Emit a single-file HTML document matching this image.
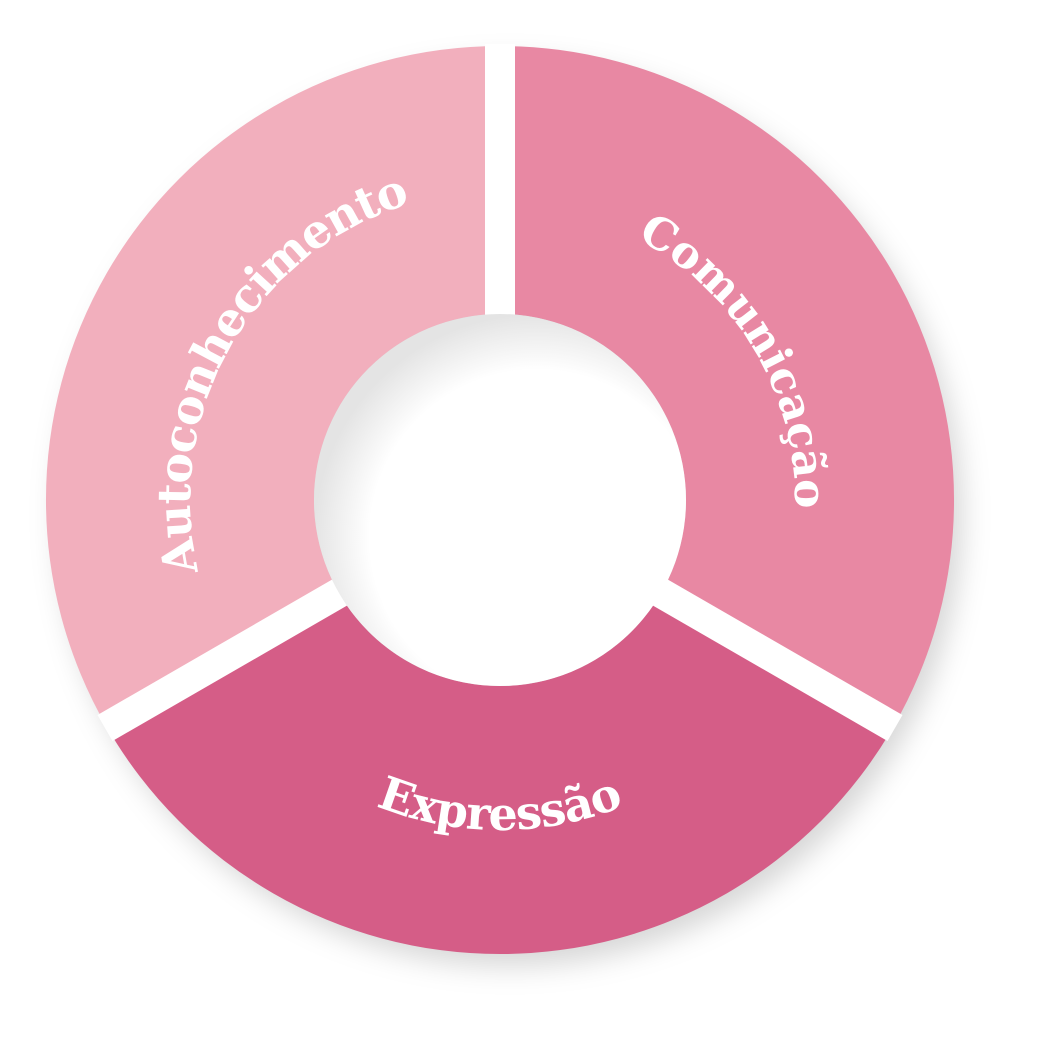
<!DOCTYPE html>
<html><head><meta charset="utf-8"><style>
html,body{margin:0;padding:0;background:#fff;}
svg{display:block;}
text{font-family:"DejaVu Serif","Liberation Serif",serif;font-weight:bold;fill:#fff;font-size:44px;}
</style></head><body>
<svg width="1037" height="1047" viewBox="0 0 1037 1047" xmlns="http://www.w3.org/2000/svg">
<defs>
<filter id="sh" x="-20%" y="-20%" width="140%" height="140%"><feGaussianBlur stdDeviation="14"/></filter>
<radialGradient id="hole" cx="0.6" cy="0.6" r="0.6">
<stop offset="0.75" stop-color="#ffffff"/>
<stop offset="1" stop-color="#e4e4e4"/>
</radialGradient>
</defs>
<circle cx="510" cy="514" r="452" fill="#000" fill-opacity="0.16" filter="url(#sh)"/>
<path d="M 106.8 727 A 454 454 0 0 1 500 46 L 500 314 A 186 186 0 0 0 338.9 593 Z" fill="#f2afbd"/>
<path d="M 500 46 A 454 454 0 0 1 893.2 727 L 661.1 593 A 186 186 0 0 0 500 314 Z" fill="#e888a3"/>
<path d="M 893.2 727 A 454 454 0 0 1 106.8 727 L 338.9 593 A 186 186 0 0 0 661.1 593 Z" fill="#d55d87"/>
<g stroke="#fff" stroke-width="30">
<line x1="500" y1="500" x2="500" y2="44"/>
<line x1="500" y1="500" x2="895" y2="728"/>
<line x1="500" y1="500" x2="105" y2="728"/>
</g>
<circle cx="500" cy="500" r="186" fill="url(#hole)"/>
<path id="tL" fill="none" d="M 345 768.5 A 310 310 0 0 1 655 231.5"/>
<path id="tR" fill="none" d="M 350.8 245.5 A 295 295 0 0 1 649.2 754.5"/>
<path id="tB" fill="none" d="M 170 500 A 330 330 0 0 0 830 500"/>
<text style="font-size:46px"><textPath href="#tL" startOffset="50%" text-anchor="middle" textLength="468" lengthAdjust="spacing">Autoconhecimento</textPath></text>
<text><textPath href="#tR" startOffset="50%" text-anchor="middle" textLength="330" lengthAdjust="spacing">Comunicação</textPath></text>
<text style="font-size:46px"><textPath href="#tB" startOffset="50%" text-anchor="middle" textLength="255" lengthAdjust="spacing">Expressão</textPath></text>
</svg>
</body></html>
